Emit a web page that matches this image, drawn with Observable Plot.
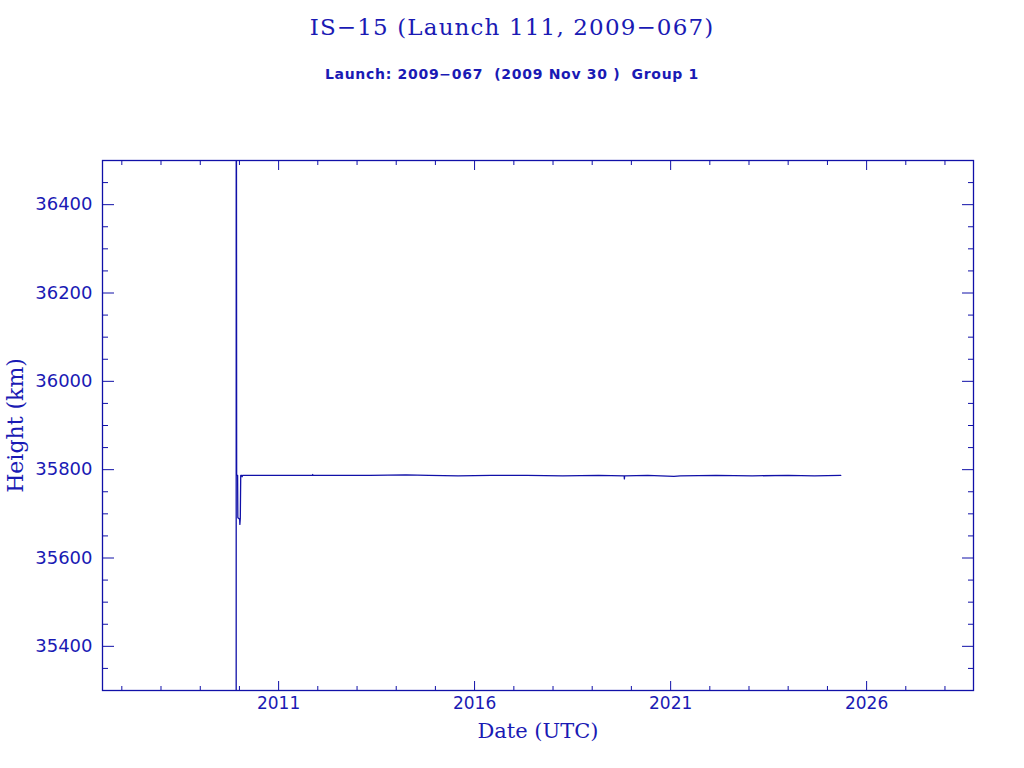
<!DOCTYPE html>
<html><head><meta charset="utf-8">
<script src="https://cdn.jsdelivr.net/npm/d3@7"></script>
<script src="https://cdn.jsdelivr.net/npm/@observablehq/plot@0.6"></script>
<style>
body{margin:0;background:#fff;}
#header{position:relative;width:1024px;height:100px;}
.ttl{position:absolute;left:0;width:1024px;text-align:center;color:#1a1ab4;white-space:pre;}
</style></head><body>
<div id="header">
<div class="ttl" style="top:14px;font-family:'DejaVu Serif';font-size:23px;letter-spacing:1.15px;">IS−15 (Launch 111, 2009−067)</div>
<div class="ttl" style="top:66px;font-family:'DejaVu Sans';font-size:14px;font-weight:bold;letter-spacing:0.7px;">Launch: 2009−067  (2009 Nov 30 )  Group 1</div>
</div>
<div id="chart"></div>
<script>
const COLOR = "#1010a8";
const TEXTC = "#1a1ab4";

// Observed series (date, mean height km)
const dates = ["2009-11-30","2009-12-02","2009-12-06","2009-12-15","2009-12-17","2010-01-03","2010-01-05","2010-01-09","2010-01-13","2010-01-24","2010-01-26","2010-01-30",
  "2010-09-01","2011-06-01","2011-11-14","2011-11-15","2011-11-16","2012-06-01","2013-05-01","2014-04-01","2014-11-01","2015-08-01","2016-06-01","2017-05-01","2018-04-01","2019-03-01","2019-10-26","2019-10-28","2019-10-30","2020-06-01","2021-02-01","2021-04-01","2022-03-01","2023-02-01","2024-01-01","2024-09-01","2025-05-05"];
const heights = [20000,37500,35788,35787,35691,35688,35676,35690,35787,35787,35784,35787,
  35787,35787,35787,35789,35787,35787,35787,35788,35787,35786,35787,35787,35786,35787,35786,35779,35786,35787,35785,35786,35787,35786,35787,35786,35787];

const xDomain = ["2006-07-05","2028-09-23"];
const yDomain = [35300, 36500];
const majorYears = [2011, 2016, 2021, 2026];
const minorYears = [2007,2008,2009,2010,2012,2013,2014,2015,2017,2018,2019,2020,2022,2023,2024,2025,2027,2028];
const yMajor = [35400, 35600, 35800, 36000, 36200, 36400];
const yMinor = [35350,35450,35500,35550,35650,35700,35750,35850,35900,35950,36050,36100,36150,36250,36300,36350,36450];

const series = dates.map((d, i) => ({date: new Date(d), height: heights[i]}));
const yd = y => new Date(Date.UTC(y, 0, 1));
const blank = () => "";

const chart = Plot.plot({
  width: 1024, height: 668,
  marginLeft: 102, marginRight: 51, marginTop: 60, marginBottom: 78,
  style: {background: "white", color: COLOR},
  x: {type: "utc", domain: xDomain.map(d => new Date(d))},
  y: {domain: yDomain},
  marks: [
    Plot.line(series, {x: "date", y: "height", stroke: COLOR, strokeWidth: 1.3, clip: true}),
    Plot.frame({stroke: COLOR, strokeWidth: 1.3}),
    Plot.axisX(majorYears.map(yd), {anchor: "bottom", tickSize: -9, tickFormat: blank, stroke: COLOR, label: null}),
    Plot.axisX(minorYears.map(yd), {anchor: "bottom", tickSize: -4, tickFormat: blank, stroke: COLOR, label: null}),
    Plot.axisX(majorYears.map(yd), {anchor: "top", tickSize: -9, tickFormat: blank, stroke: COLOR, label: null}),
    Plot.axisX(minorYears.map(yd), {anchor: "top", tickSize: -4, tickFormat: blank, stroke: COLOR, label: null}),
    Plot.axisX(majorYears.map(yd), {anchor: "bottom", tickSize: 0, tickPadding: 6, tickFormat: "%Y", fill: TEXTC, fontSize: 17, fontFamily: "DejaVu Sans", label: null}),
    Plot.axisY(yMajor, {anchor: "left", tickSize: -12, tickFormat: blank, stroke: COLOR, label: null}),
    Plot.axisY(yMinor, {anchor: "left", tickSize: -6, tickFormat: blank, stroke: COLOR, label: null}),
    Plot.axisY(yMajor, {anchor: "right", tickSize: -12, tickFormat: blank, stroke: COLOR, label: null}),
    Plot.axisY(yMinor, {anchor: "right", tickSize: -6, tickFormat: blank, stroke: COLOR, label: null}),
    Plot.axisY(yMajor, {anchor: "left", tickSize: 0, tickPadding: 10, tickFormat: d => String(d), fill: TEXTC, fontSize: 18, fontFamily: "DejaVu Sans", label: null}),
    Plot.text(["Date (UTC)"], {frameAnchor: "bottom", dy: 47, fill: TEXTC, fontSize: 21, fontFamily: "DejaVu Serif", text: d => d}),
    Plot.text(["Height (km)"], {frameAnchor: "left", textAnchor: "middle", rotate: -90, dx: -87, fill: TEXTC, fontSize: 22, fontFamily: "DejaVu Serif", text: d => d, style: "letter-spacing:1px"})
  ]
});
document.getElementById("chart").appendChild(chart);
</script>
</body></html>
